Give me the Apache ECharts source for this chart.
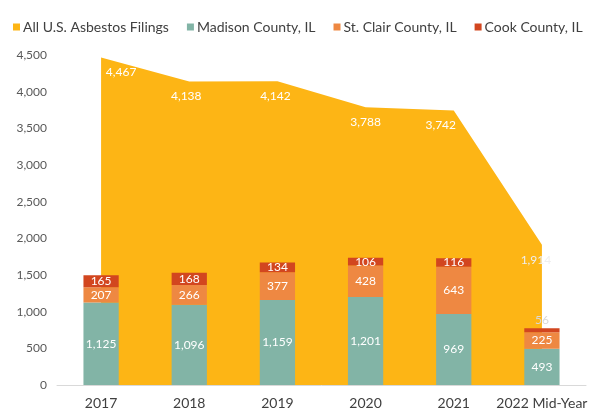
<!DOCTYPE html>
<html><head><meta charset="utf-8">
<script src="https://cdn.jsdelivr.net/npm/echarts@6/dist/echarts.min.js"></script>
<style>html,body{margin:0;padding:0;background:#fff}#c{width:595px;height:412px}</style>
</head><body><div id="c"></div>
<script>
const categories = ['2017','2018','2019','2020','2021','2022 Mid-Year'];
const allUS = [4467, 4138, 4142, 3788, 3742, 1914];
const madison = [1125, 1096, 1159, 1201, 969, 493];
const stClair = [207, 266, 377, 428, 643, 225];
const cook = [165, 168, 134, 106, 116, 56];
const yTicks = [0, 500, 1000, 1500, 2000, 2500, 3000, 3500, 4000, 4500];

const font = 'Lato, "Open Sans", sans-serif';
const fmt = v => v.toLocaleString('en-US');
const chart = echarts.init(document.getElementById('c'));
const barLabel = {show: true, position: 'inside', color: '#fff', fontFamily: font, fontSize: 12, formatter: p => fmt(p.value)};
const areaLabelOffsets = [[20, 0], [-3, 0], [-2, 0], [0, 0], [-13, 0], [-6, 0]];
chart.setOption({
  animation: false,
  textStyle: {fontFamily: font},
  legend: {
    top: 15, left: 8, itemWidth: 7, itemHeight: 7, itemGap: 18, icon: 'rect',
    textStyle: {fontFamily: font, fontSize: 14, color: '#404040', padding: [0,0,0,-2]},
    data: ['All U.S. Asbestos Filings','Madison County, IL','St. Clair County, IL','Cook County, IL']
  },
  grid: {left: 57, right: 9, top: 55, bottom: 27},
  xAxis: {
    type: 'category', data: categories, boundaryGap: true,
    axisLine: {lineStyle: {color: '#d9d9d9'}}, axisTick: {show: false},
    axisLabel: {color: '#404040', fontSize: 14, fontFamily: font, margin: 11, interval: 0}
  },
  yAxis: {
    type: 'value', min: yTicks[0], max: yTicks[yTicks.length-1], interval: 500,
    splitLine: {show: false}, axisLine: {show: false}, axisTick: {show: false},
    axisLabel: {color: '#595959', fontSize: 12, fontFamily: font, margin: 10, formatter: v => fmt(v)}
  },
  series: [
    {
      name: 'All U.S. Asbestos Filings', type: 'line',
      data: allUS.map((v,i) => ({value: v, label: i === allUS.length-1 ? {offset: areaLabelOffsets[i], color: '#eeeeee'} : {offset: areaLabelOffsets[i]}})),
      symbol: 'circle', symbolSize: 0, showSymbol: true, lineStyle: {width: 0}, itemStyle: {color: '#FDB515'},
      areaStyle: {color: '#FDB515', opacity: 1},
      label: {show: true, position: 'bottom', distance: 9, color: '#fff', fontSize: 12, fontFamily: font, formatter: p => fmt(p.value)},
      z: 1
    },
    {name: 'Madison County, IL', type: 'bar', stack: 'il', data: madison, barWidth: '40%', itemStyle: {color: '#82B4A6'}, label: barLabel, z: 3},
    {name: 'St. Clair County, IL', type: 'bar', stack: 'il', data: stClair, itemStyle: {color: '#EE8842'}, label: barLabel, z: 3},
    {name: 'Cook County, IL', type: 'bar', stack: 'il', data: cook.map((v,i) => i === cook.length-1 ? {value: v, label: {position: 'top', distance: 2, color: '#d8d8d8'}} : v), itemStyle: {color: '#D2461F'}, label: barLabel, z: 3}
  ]
});
</script></body></html>
